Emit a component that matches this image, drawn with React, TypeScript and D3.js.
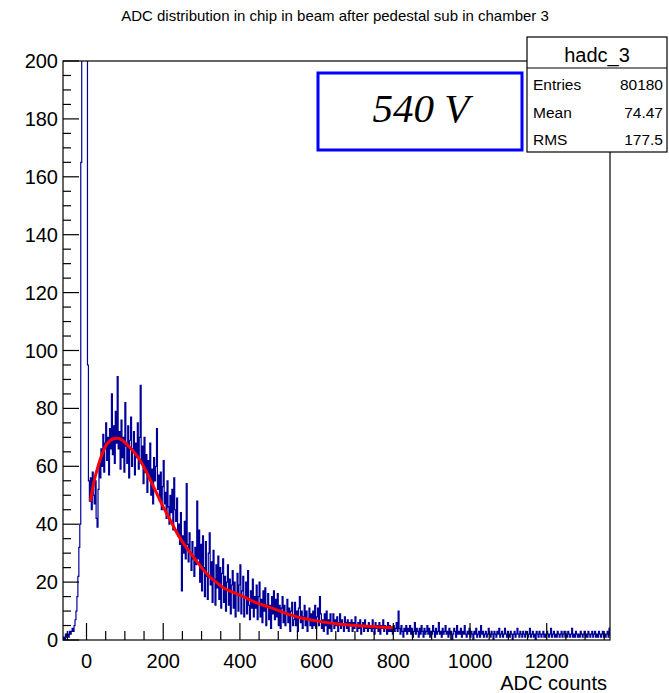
import React from "react";
import * as d3 from "d3";

// ---- data ----
const binStart = -60;
const binWidth = 2.5;
// counts per 2.5-ADC bin, starting at -60 (each row = 50 ADC)
const counts = [
  1, 0, 2, 1, 2, 1, 3, 2, 3, 4, 3, 5, 7, 10, 15, 22, 32, 40, 165, 900,
  3000, 5000, 6000, 4000, 250, 95, 55, 48, 56, 45, 58, 50, 47, 55, 42, 39, 52, 61, 56, 66,
  60, 71, 58, 68, 75, 62, 70, 57, 73, 66, 85, 64, 74, 61, 79, 68, 91, 66, 72, 59,
  76, 63, 70, 58, 82, 67, 61, 74, 56, 69, 77, 60, 66, 72, 57, 68, 63, 75, 59, 70,
  88, 61, 67, 54, 70, 58, 64, 51, 62, 56, 68, 50, 59, 47, 63, 55, 60, 73, 52, 57,
  48, 58, 45, 53, 62, 47, 51, 42, 55, 46, 40, 50, 44, 52, 38, 56, 45, 41, 49, 36,
  40, 33, 44, 17, 36, 30, 41, 28, 54, 33, 27, 37, 30, 24, 34, 28, 22, 32, 26, 48,
  28, 38, 20, 33, 17, 36, 25, 15, 34, 22, 14, 30, 37, 19, 27, 13, 31, 21, 12, 26,
  18, 29, 14, 25, 11, 23, 28, 13, 22, 10, 20, 26, 12, 21, 9, 19, 24, 11, 20, 8,
  16, 23, 10, 19, 26, 9, 17, 22, 8, 15, 20, 9, 24, 12, 7, 17, 11, 21, 8, 15,
  11, 19, 7, 15, 20, 8, 14, 6, 17, 10, 18, 5, 12, 16, 7, 12, 4, 15, 9, 17,
  7, 14, 8, 16, 5, 12, 4, 11, 15, 6, 12, 5, 9, 14, 6, 11, 3, 10, 13, 5,
  7, 13, 5, 10, 3, 11, 15, 6, 10, 4, 8, 12, 5, 10, 3, 7, 11, 5, 9, 4,
  10, 5, 12, 4, 8, 11, 5, 15, 9, 4, 7, 3, 9, 5, 10, 2, 7, 4, 9, 3,
  6, 9, 4, 7, 5, 8, 3, 6, 9, 4, 7, 5, 3, 8, 6, 4, 7, 3, 6, 5,
  7, 3, 6, 4, 8, 5, 3, 6, 4, 7, 2, 5, 6, 3, 7, 4, 5, 3, 6, 4,
  5, 3, 7, 4, 2, 6, 4, 5, 3, 6, 2, 5, 4, 7, 3, 5, 4, 2, 6, 3,
  5, 3, 4, 2, 5, 3, 4, 6, 3, 10, 4, 2, 5, 3, 1, 4, 3, 5, 2, 4,
  3, 5, 2, 4, 1, 3, 6, 2, 4, 3, 1, 4, 2, 5, 3, 1, 4, 2, 3, 5,
  2, 4, 1, 3, 2, 5, 3, 1, 4, 2, 3, 6, 2, 3, 1, 4, 2, 3, 5, 2,
  3, 1, 4, 2, 3, 0, 2, 4, 3, 1, 5, 2, 3, 2, 4, 1, 3, 2, 5, 2,
  1, 3, 2, 4, 1, 3, 2, 0, 3, 2, 4, 1, 2, 3, 1, 5, 2, 3, 1, 2,
  3, 1, 2, 4, 2, 1, 3, 2, 0, 3, 2, 1, 3, 2, 4, 1, 2, 3, 1, 2,
  4, 2, 1, 3, 2, 1, 3, 2, 0, 2, 3, 1, 2, 4, 2, 1, 3, 2, 1, 3,
  2, 1, 3, 2, 1, 2, 4, 1, 2, 3, 1, 2, 0, 3, 2, 1, 3, 2, 1, 2,
  3, 1, 2, 1, 3, 2, 1, 2, 4, 1, 2, 3, 1, 2, 1, 3, 2, 1, 2, 3,
  1, 2, 3, 1, 2, 1, 3, 2, 1, 2, 4, 1, 2, 1, 3, 2, 1, 2, 1, 3,
  2, 1, 2, 3, 1, 2, 1, 3, 2, 1, 2, 3, 1, 2, 3, 1, 2, 1, 3, 2,
  1, 2, 3, 1, 2, 1, 2, 3, 1, 4, 2, 1,
];

// fit curve points (ADC, value)
const fitX = [10, 20, 30, 40, 50, 60, 70, 80, 90, 100, 120, 140, 160, 180, 200, 220, 240, 260, 280, 300, 320, 340, 360, 380, 400, 440, 480, 520, 560, 600, 650, 700, 750, 800];
const fitY = [48, 55, 60, 64, 67, 68.7, 69.5, 69.7, 69.3, 68.2, 65.5, 62, 57, 51.5, 46, 41, 36, 32, 28.5, 25, 22, 19.8, 17.8, 16.6, 15.5, 13, 11.2, 9.2, 7.6, 6.6, 5.6, 5, 4.6, 4.2];

const xTickLabels = [0, 200, 400, 600, 800, 1000, 1200];
const yTickLabels = [0, 20, 40, 60, 80, 100, 120, 140, 160, 180, 200];

const titleText = "ADC distribution in chip in beam after pedestal sub in chamber 3";
const xAxisTitle = "ADC counts";
const statsName = "hadc_3";
const statsRows = [
  ["Entries", "80180"],
  ["Mean", "74.47"],
  ["RMS", "177.5"],
];
const labelText = "540 V";

// ---- layout ----
const W = 669;
const H = 693;
const frame = { left: 63, right: 610, top: 61, bottom: 640 };
const sans = "'Liberation Sans', Arial, Helvetica, sans-serif";
const serif = "'Liberation Serif', 'Times New Roman', serif";

export default function App() {
  const x = d3.scaleLinear().domain([-61.3, 1365]).range([frame.left, frame.right]);
  const y = d3.scaleLinear().domain([0, 200]).range([frame.bottom, frame.top]);

  // step path for histogram
  let path = `M${x(binStart)},${y(0)}`;
  counts.forEach((c, i) => {
    const x1 = x(binStart + (i + 1) * binWidth);
    path += `V${y(c)}H${x1}`;
  });
  path += `V${y(0)}`;

  const fitLine = d3
    .line<number>()
    .x((_, i) => x(fitX[i]))
    .y((d) => y(d))
    .curve(d3.curveMonotoneX)(fitY) as string;

  const xMinor = d3.range(-50, 1366, 50);
  const yMinor = d3.range(0, 201, 5);

  return (
    <div style={{ position: "absolute", left: 0, top: 0 }}>
      <svg width={W} height={H} style={{ display: "block", background: "#fff" }}>
        <defs>
          <clipPath id="plotclip">
            <rect x={frame.left} y={frame.top} width={frame.right - frame.left} height={frame.bottom - frame.top} />
          </clipPath>
        </defs>
        <rect x={0} y={0} width={W} height={H} fill="#fff" />
        {/* title */}
        <text x={335} y={21} textAnchor="middle" fontFamily={sans} fontSize={15} fill="#000">
          {titleText}
        </text>

        {/* histogram */}
        <g clipPath="url(#plotclip)">
          <path d={path} fill="none" stroke="#000099" strokeWidth={1.2} />
          <path d={fitLine} fill="none" stroke="#ff0000" strokeWidth={3} />
        </g>

        {/* frame */}
        <rect
          x={frame.left}
          y={frame.top}
          width={frame.right - frame.left}
          height={frame.bottom - frame.top}
          fill="none"
          stroke="#000"
          strokeWidth={1.2}
        />

        {/* y ticks */}
        {yMinor.map((v) => {
          const major = v % 20 === 0;
          return (
            <line key={`ym${v}`} x1={frame.left} x2={frame.left + (major ? 16 : 8)} y1={y(v)} y2={y(v)} stroke="#000" strokeWidth={1.2} />
          );
        })}
        {yTickLabels.map((v) => (
          <text key={`yl${v}`} x={frame.left - 5} y={y(v) + 7} textAnchor="end" fontFamily={sans} fontSize={20} fill="#000">
            {v}
          </text>
        ))}

        {/* x ticks */}
        {xMinor.map((v) => {
          const major = v % 200 === 0;
          return (
            <line key={`xm${v}`} x1={x(v)} x2={x(v)} y1={frame.bottom} y2={frame.bottom - (major ? 17 : 9)} stroke="#000" strokeWidth={1.2} />
          );
        })}
        {xTickLabels.map((v) => (
          <text key={`xl${v}`} x={x(v)} y={668} textAnchor="middle" fontFamily={sans} fontSize={20} fill="#000">
            {v}
          </text>
        ))}
        <text x={607} y={690} textAnchor="end" fontFamily={sans} fontSize={20} fill="#000">
          {xAxisTitle}
        </text>

        {/* label box */}
        <rect x={318} y={73} width={204} height={77} fill="#fff" stroke="#0000ff" strokeWidth={3} />
        <text x={421} y={122} textAnchor="middle" fontFamily={serif} fontStyle="italic" fontSize={41} fill="#000">
          {labelText}
        </text>

        {/* stats box */}
        <rect x={527} y={37} width={140} height={115} fill="#fff" stroke="#000" strokeWidth={1.2} />
        <line x1={527} x2={667} y1={68} y2={68} stroke="#000" strokeWidth={1.2} />
        <text x={597} y={62} textAnchor="middle" fontFamily={sans} fontSize={20} fill="#000">
          {statsName}
        </text>
        {statsRows.map((r, i) => (
          <g key={r[0]}>
            <text x={533} y={90 + i * 27.5} fontFamily={sans} fontSize={15.5} fill="#000">
              {r[0]}
            </text>
            <text x={663} y={90 + i * 27.5} textAnchor="end" fontFamily={sans} fontSize={15.5} fill="#000">
              {r[1]}
            </text>
          </g>
        ))}
      </svg>
    </div>
  );
}
